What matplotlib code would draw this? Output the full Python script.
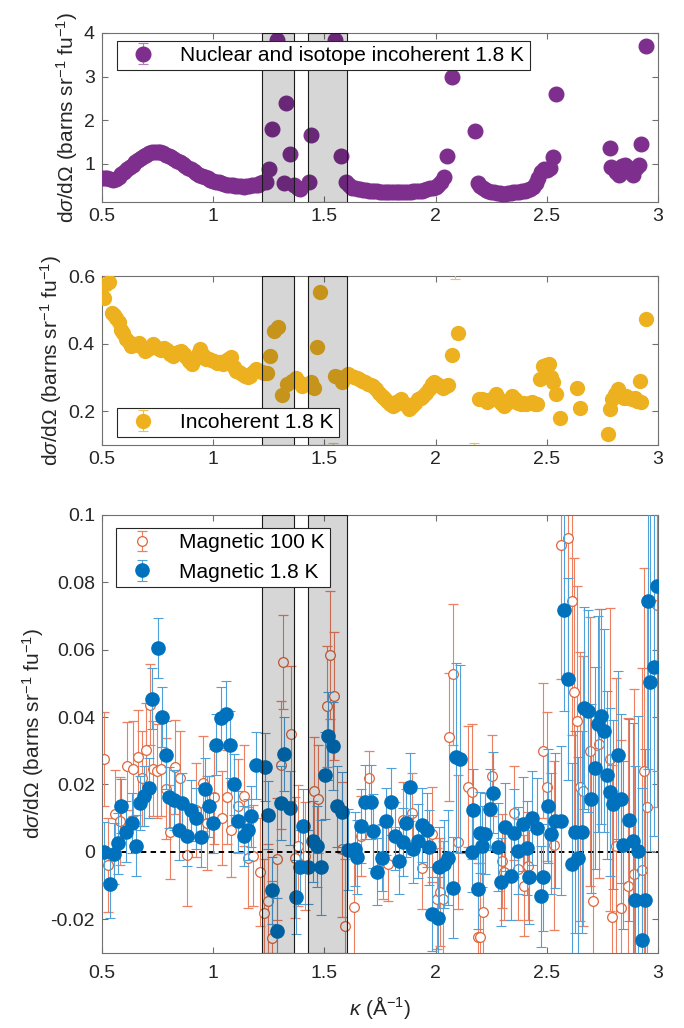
import numpy as np
import matplotlib
matplotlib.use('Agg')
import matplotlib.pyplot as plt
from matplotlib.ticker import FuncFormatter

plt.rcParams['font.family'] = ['Liberation Sans', 'DejaVu Sans']
plt.rcParams['mathtext.fontset'] = 'custom'
plt.rcParams['mathtext.rm'] = 'Liberation Sans'
plt.rcParams['mathtext.it'] = 'Liberation Sans:italic'
plt.rcParams['mathtext.bf'] = 'Liberation Sans:bold'
plt.rcParams['axes.unicode_minus'] = False

# Ausgeschlossene kappa-Bereiche (graue Streifen)
band_lo = [1.22, 1.426]
band_hi = [1.363, 1.60]

# Nuklear + Isotopen-inkohaerent, 1.8 K
top_k = [0.5, 0.5125, 0.525, 0.5375, 0.55, 0.5625, 0.575, 0.5875, 0.6, 0.6125, 0.625, 0.6375,
         0.65, 0.6625, 0.675, 0.6875, 0.7, 0.7125, 0.725, 0.7375, 0.75, 0.7625, 0.775, 0.7875,
         0.8, 0.8125, 0.825, 0.8375, 0.85, 0.8625, 0.875, 0.8875, 0.9, 0.9125, 0.925, 0.9375,
         0.95, 0.9625, 0.975, 0.9875, 1.0, 1.0125, 1.025, 1.0375, 1.05, 1.0625, 1.075, 1.0875,
         1.1, 1.1125, 1.125, 1.1375, 1.15, 1.1625, 1.175, 1.1875, 1.2, 1.2125, 1.225,
         1.2375, 1.25, 1.2625, 1.2875, 1.318, 1.329, 1.347, 1.3625, 1.38, 1.3925, 1.431, 1.441,
         1.549, 1.573, 1.598,
         1.6125, 1.625, 1.6375, 1.65, 1.6625, 1.675, 1.6875, 1.7, 1.7125, 1.725, 1.7375, 1.75,
         1.7625, 1.775, 1.7875, 1.8, 1.8125, 1.825, 1.8375, 1.85, 1.8625, 1.875, 1.8875, 1.9,
         1.9125, 1.925, 1.9375, 1.95, 1.9625, 1.975, 1.9875, 2.0, 2.0125, 2.025, 2.0375, 2.053,
         2.075,
         2.176, 2.19, 2.2, 2.2125, 2.225, 2.2375, 2.25, 2.2625, 2.275, 2.2875, 2.3, 2.3125,
         2.325, 2.3375, 2.35, 2.3625, 2.375, 2.3875, 2.4, 2.4125, 2.425, 2.4375, 2.45, 2.4625,
         2.475, 2.4875, 2.5, 2.5125, 2.53, 2.543,
         2.784, 2.79, 2.8, 2.8125, 2.825, 2.8375, 2.85, 2.8625, 2.875, 2.8875, 2.9, 2.9125,
         2.922, 2.947]
top_v = [0.66, 0.67, 0.68, 0.65, 0.62, 0.64, 0.70, 0.77, 0.82, 0.88, 0.93, 0.98,
         1.03, 1.08, 1.13, 1.17, 1.20, 1.24, 1.26, 1.27, 1.27, 1.26, 1.24, 1.21,
         1.18, 1.15, 1.11, 1.07, 1.03, 0.99, 0.95, 0.91, 0.87, 0.83, 0.79, 0.75,
         0.72, 0.69, 0.66, 0.63, 0.61, 0.59, 0.57, 0.56, 0.54, 0.52, 0.51, 0.50,
         0.49, 0.48, 0.48, 0.47, 0.48, 0.49, 0.50, 0.51, 0.52, 0.55, 0.57,
         0.58, 0.87, 1.79, 3.85, 0.56, 2.39, 1.22, 0.50, 0.43, 0.42, 0.58, 1.66,
         3.85, 1.18, 0.58,
         0.50, 0.45, 0.43, 0.42, 0.41, 0.40, 0.39, 0.38, 0.38, 0.37, 0.37, 0.36,
         0.36, 0.35, 0.35, 0.34, 0.35, 0.35, 0.34, 0.35, 0.35, 0.36, 0.36, 0.37,
         0.37, 0.38, 0.38, 0.40, 0.41, 0.43, 0.45, 0.47, 0.50, 0.58, 0.70, 1.18,
         2.98,
         1.75, 0.55, 0.48, 0.43, 0.40, 0.38, 0.36, 0.34, 0.33, 0.32, 0.31, 0.31,
         0.32, 0.33, 0.34, 0.35, 0.36, 0.37, 0.38, 0.39, 0.42, 0.47, 0.55, 0.68,
         0.82, 0.88, 0.86, 0.90, 1.16, 2.60,
         1.37, 0.93, 0.88, 0.80, 0.75, 0.95, 0.98, 0.92, 0.80, 0.75, 0.90, 0.97,
         1.45, 3.70]

# Inkohaerent, 1.8 K
mid_k = [0.5075, 0.52, 0.5325, 0.545, 0.555, 0.565, 0.575, 0.585, 0.595, 0.6075, 0.62, 0.63,
         0.645, 0.655, 0.6675, 0.68, 0.6925, 0.705, 0.7175, 0.73, 0.7425, 0.755, 0.7675, 0.78,
         0.7925, 0.805, 0.8175, 0.83, 0.8425, 0.855, 0.8675, 0.88, 0.8925, 0.905, 0.9175, 0.93,
         0.9425, 0.955, 0.9675, 0.98, 0.9925, 1.005, 1.0175, 1.03, 1.0425, 1.055, 1.0675, 1.08,
         1.0925, 1.105, 1.1175, 1.13, 1.1425, 1.155, 1.1675, 1.18, 1.1925, 1.205, 1.2175, 1.23,
         1.2425, 1.255, 1.275, 1.2925, 1.31, 1.3325, 1.3525, 1.3725, 1.385, 1.3975, 1.42, 1.44,
         1.4525, 1.465, 1.48, 1.55, 1.5625, 1.5775, 1.59, 1.6075, 1.62, 1.6325, 1.645, 1.6575,
         1.67, 1.6825, 1.695, 1.7075, 1.72, 1.7325, 1.745, 1.7575, 1.77, 1.7825, 1.795, 1.8075,
         1.82, 1.8325, 1.845, 1.8575, 1.87, 1.8825, 1.895, 1.9075, 1.92, 1.9325, 1.945, 1.9575,
         1.97, 1.9825, 1.995, 2.0075, 2.02, 2.0325, 2.045, 2.0575, 2.0725,
         2.195, 2.2075, 2.22, 2.2325, 2.245, 2.2575, 2.27, 2.2825, 2.295, 2.3075, 2.32, 2.3325,
         2.345, 2.3575, 2.37, 2.3825, 2.395, 2.4075, 2.42, 2.4325, 2.445, 2.4575, 2.47, 2.4825,
         2.495, 2.51, 2.52, 2.53, 2.5425, 2.56, 2.6375, 2.6475,
         2.775, 2.785, 2.795, 2.8075, 2.82, 2.8325, 2.845, 2.8575, 2.87, 2.8825, 2.895, 2.9075,
         2.92, 2.925]
mid_v = [0.536, 0.575, 0.582, 0.490, 0.485, 0.475, 0.465, 0.440, 0.430, 0.415, 0.405, 0.393,
         0.395, 0.400, 0.403, 0.390, 0.378, 0.385, 0.390, 0.398, 0.390, 0.385, 0.380, 0.388,
         0.380, 0.370, 0.364, 0.370, 0.375, 0.378, 0.370, 0.360, 0.350, 0.339, 0.355, 0.370,
         0.383, 0.365, 0.354, 0.355, 0.352, 0.348, 0.344, 0.345, 0.340, 0.350, 0.355, 0.359,
         0.330, 0.319, 0.315, 0.310, 0.305, 0.300, 0.305, 0.315, 0.324, 0.320, 0.315, 0.312,
         0.312, 0.362, 0.437, 0.450, 0.247, 0.280, 0.290, 0.297, 0.285, 0.275, 0.280, 0.285,
         0.270, 0.390, 0.554, 0.304, 0.300, 0.285, 0.300, 0.309, 0.305, 0.300, 0.297, 0.295,
         0.290, 0.285, 0.280, 0.278, 0.275, 0.265, 0.255, 0.245, 0.240, 0.230, 0.220, 0.216,
         0.222, 0.230, 0.235, 0.225, 0.215, 0.206, 0.215, 0.225, 0.235, 0.240, 0.245, 0.255,
         0.265, 0.280, 0.285, 0.280, 0.275, 0.270, 0.275, 0.277, 0.366,
         0.235, 0.235, 0.232, 0.228, 0.232, 0.240, 0.250, 0.240, 0.225, 0.216, 0.225, 0.235,
         0.245, 0.235, 0.225, 0.221, 0.225, 0.220, 0.223, 0.226, 0.222, 0.220, 0.295, 0.334,
         0.338, 0.339, 0.300, 0.285, 0.250, 0.181, 0.270, 0.211,
         0.132, 0.206, 0.235, 0.250, 0.265, 0.245, 0.240, 0.245, 0.240, 0.235, 0.238, 0.230,
         0.290, 0.226]
# Punkte mit sichtbaren Fehlerbalken (teils ausserhalb des Bereichs)
mid_big_k = [1.5375, 2.0875, 2.10, 2.175, 2.9475]
mid_big_v = [0.07, 0.66, 0.43, 0.06, 0.472]
mid_big_e = [0.035, 0.07, 0.015, 0.045, 0.012]

# Magnetisch, 100 K
m100_k = [0.509, 0.528, 0.558, 0.580, 0.613, 0.639, 0.662, 0.680, 0.699, 0.717, 0.728, 0.746,
          0.766, 0.788, 0.806, 0.829, 0.850, 0.884, 0.921, 0.954, 0.973, 1.003, 1.040, 1.062,
          1.082, 1.114, 1.141, 1.156, 1.177, 1.211, 1.230, 1.248, 1.266, 1.285, 1.304, 1.316,
          1.350, 1.368, 1.383, 1.413, 1.455, 1.473, 1.510, 1.525, 1.543, 1.578, 1.593, 1.633,
          1.667, 1.702, 1.765, 1.787, 1.855, 1.892, 1.937, 1.982, 2.005, 2.020, 2.032, 2.062,
          2.080, 2.099, 2.144, 2.162, 2.189, 2.200, 2.215, 2.252, 2.297, 2.309, 2.354, 2.372,
          2.399, 2.417, 2.484, 2.499, 2.534, 2.564, 2.594, 2.612, 2.622, 2.634, 2.649, 2.664,
          2.694, 2.709, 2.735, 2.784, 2.792, 2.810, 2.834, 2.866, 2.893, 2.927, 2.939, 2.949,
          2.994]
m100_v = [0.0276, -0.0039, 0.0112, 0.0091, 0.0254, 0.0247, 0.0281, 0.0218, 0.0303, 0.0437,
          0.0247, 0.0240, 0.0247, 0.0188, 0.0059, 0.0252, 0.0218, -0.0010, 0.0125, 0.0203,
          0.0086, 0.0164, 0.0100, 0.0162, 0.0066, 0.0137, 0.0166, -0.0017, -0.0012, -0.0060,
          -0.0180, -0.0146, -0.0256, -0.0021, 0.0257, 0.0564, 0.0351, -0.0017, 0.0018, -0.0012,
          0.0180, 0.0156, 0.0432, 0.0583, 0.0464, 0.0008, -0.0221, -0.0163, 0.0047, 0.0218,
          -0.0031, -0.0036, 0.0096, 0.0115, -0.0049, 0.0052, -0.0139, -0.0120, -0.0139, 0.0341,
          0.0527, 0.0029, 0.0193, 0.0179, -0.0254, -0.0252, -0.0179, 0.0226, -0.0027, -0.0061,
          0.0116, -0.0052, -0.0100, -0.0042, 0.0300, 0.0194, 0.0019, 0.0912, 0.0932, 0.0746,
          0.0473, 0.0389, 0.0194, 0.0180, 0.0298, -0.0147, 0.0321, 0.0275, -0.0193, 0.0017,
          -0.0167, -0.0102, -0.0066, -0.0054, 0.0241, 0.0132, 0.0734]
m100_e = [0.014, 0.014, 0.013, 0.013, 0.013, 0.014, 0.014, 0.014, 0.014, 0.012,
          0.014, 0.014, 0.014, 0.015, 0.014, 0.014, 0.014, 0.015, 0.014, 0.014,
          0.014, 0.014, 0.014, 0.014, 0.014, 0.014, 0.015, 0.015, 0.015, 0.016,
          0.016, 0.017, 0.017, 0.018, 0.019, 0.014, 0.020, 0.018, 0.018, 0.016,
          0.016, 0.016, 0.018, 0.019, 0.019, 0.020, 0.020, 0.018, 0.012, 0.008,
          0.011, 0.011, 0.011, 0.012, 0.012, 0.014, 0.015, 0.016, 0.017, 0.019,
          0.021, 0.020, 0.018, 0.020, 0.022, 0.022, 0.022, 0.012, 0.014, 0.014,
          0.014, 0.015, 0.015, 0.016, 0.020, 0.022, 0.025, 0.040, 0.040, 0.040,
          0.040, 0.040, 0.040, 0.040, 0.040, 0.045, 0.040, 0.045, 0.045, 0.050,
          0.050, 0.050, 0.055, 0.060, 0.060, 0.060, 0.060]

# Magnetisch, 1.8 K
m18_k = [0.509, 0.536, 0.553, 0.572, 0.587, 0.610, 0.635, 0.651, 0.669, 0.687, 0.711, 0.725,
         0.751, 0.769, 0.788, 0.803, 0.825, 0.847, 0.862, 0.884, 0.899, 0.921, 0.944, 0.963,
         0.981, 1.000, 1.013, 1.037, 1.058, 1.077, 1.096, 1.114, 1.137, 1.156, 1.171, 1.191,
         1.233, 1.248, 1.266, 1.288, 1.304, 1.320, 1.345, 1.371, 1.390, 1.405, 1.428, 1.450,
         1.465, 1.483, 1.503, 1.518, 1.537, 1.555, 1.581, 1.605, 1.637, 1.649, 1.664, 1.683,
         1.709, 1.720, 1.738, 1.757, 1.777, 1.798, 1.817, 1.835, 1.855, 1.865, 1.886, 1.900,
         1.922, 1.937, 1.960, 1.970, 1.982, 2.009, 2.015, 2.039, 2.057, 2.077, 2.090, 2.110,
         2.162, 2.170, 2.192, 2.200, 2.207, 2.222, 2.245, 2.260, 2.279, 2.294, 2.312, 2.339,
         2.354, 2.372, 2.394, 2.410, 2.421, 2.435, 2.454, 2.472, 2.484, 2.504, 2.519, 2.537,
         2.564, 2.579, 2.594, 2.615, 2.627, 2.642, 2.657, 2.667, 2.687, 2.699, 2.717, 2.729,
         2.744, 2.759, 2.771, 2.784, 2.799, 2.819, 2.834, 2.844, 2.870, 2.889, 2.897, 2.912,
         2.927, 2.941, 2.954, 2.964, 2.984, 2.994]
m18_v = [0.0000, -0.0095, -0.0005, 0.0025, 0.0135, 0.0060, 0.0086, 0.0018, 0.0146, 0.0166,
         0.0190, 0.0455, 0.0605, 0.0400, 0.0288, 0.0162, 0.0154, 0.0066, 0.0144, 0.0047,
         0.0123, 0.0100, 0.0044, 0.0188, 0.0135, 0.0086, 0.0318, 0.0398, 0.0408, 0.0318,
         0.0200, 0.0091, 0.0047, 0.0066, 0.0105, 0.0257, 0.0252, 0.0110, -0.0114, -0.0236,
         0.0144, 0.0290, 0.0130, -0.0134, -0.0046, 0.0078, -0.0046, 0.0032, 0.0016, -0.0046,
         0.0227, 0.0344, 0.0315, 0.0135, 0.0117, 0.0006, 0.0008, -0.0014, 0.0078, 0.0149,
         0.0149, 0.0061, -0.0059, -0.0017, 0.0091, 0.0149, 0.0047, -0.0026, 0.0029, 0.0086,
         0.0193, 0.0008, 0.0032, 0.0081, 0.0066, 0.0013, -0.0185, -0.0195, -0.0046, -0.0036,
         -0.0017, -0.0107, 0.0281, 0.0276, 0.0000, 0.0125, -0.0110, 0.0057, 0.0017, 0.0054,
         0.0126, 0.0175, 0.0015, -0.0089, 0.0073, -0.0071, 0.0056, 0.0004, 0.0083, 0.0012,
         -0.0074, 0.0100, 0.0070, -0.0132, -0.0076, 0.0136, 0.0054, 0.0093, 0.0093, 0.0717,
         0.0514, -0.0035, 0.0058, -0.0018, 0.0058, 0.0428, 0.0417, 0.0158, 0.0249, 0.0380,
         0.0402, 0.0360, 0.0228, 0.0178, 0.0141, 0.0288, 0.0158, 0.0021, 0.0095, 0.0031,
         -0.0144, 0.0002, -0.0261, -0.0144, 0.0746, 0.0504, 0.0548, 0.0789]
m18_e = [0.009, 0.010, 0.009, 0.009, 0.008, 0.009, 0.009, 0.009, 0.008, 0.009,
         0.009, 0.009, 0.009, 0.009, 0.010, 0.009, 0.009, 0.009, 0.009, 0.009,
         0.009, 0.009, 0.009, 0.009, 0.009, 0.009, 0.009, 0.009, 0.010, 0.010,
         0.009, 0.009, 0.009, 0.009, 0.009, 0.010, 0.010, 0.010, 0.010, 0.010,
         0.011, 0.011, 0.011, 0.011, 0.011, 0.011, 0.011, 0.012, 0.012, 0.014,
         0.013, 0.013, 0.013, 0.012, 0.012, 0.012, 0.011, 0.011, 0.011, 0.011,
         0.011, 0.011, 0.010, 0.010, 0.010, 0.010, 0.010, 0.010, 0.010, 0.010,
         0.010, 0.010, 0.011, 0.011, 0.011, 0.011, 0.011, 0.012, 0.012, 0.013,
         0.014, 0.015, 0.028, 0.028, 0.012, 0.012, 0.012, 0.012, 0.012, 0.012,
         0.012, 0.012, 0.013, 0.013, 0.013, 0.013, 0.013, 0.013, 0.014, 0.014,
         0.014, 0.014, 0.015, 0.015, 0.016, 0.017, 0.018, 0.020, 0.022, 0.030,
         0.030, 0.030, 0.030, 0.030, 0.030, 0.030, 0.030, 0.028, 0.030, 0.032,
         0.032, 0.030, 0.025, 0.025, 0.025, 0.025, 0.025, 0.025, 0.030, 0.035,
         0.040, 0.040, 0.045, 0.045, 0.050, 0.050, 0.050, 0.055]

purple = '#7E2F8E'
gelb = '#EDB120'
orange = '#D95319'
blau = '#0072BD'

ylabel = 'd$\\sigma$/d$\\Omega$ (barns sr$^{-1}$ fu$^{-1}$)'
fmt = FuncFormatter(lambda v, p: '%g' % v)

fig = plt.figure(figsize=(6.84, 10.28), dpi=100)
ax1 = fig.add_axes([0.149, 0.8035, 0.813, 0.1644])
ax2 = fig.add_axes([0.149, 0.5671, 0.813, 0.1644])
ax3 = fig.add_axes([0.149, 0.0730, 0.813, 0.4261])


def stil(ax, xpad=4.5):
    for s in ax.spines.values():
        s.set_color('#707070')
        s.set_linewidth(0.8)
    ax.tick_params(direction='in', length=4, width=0.8, top=True, right=True,
                   color='#707070', labelcolor='#262626', labelsize=14)
    ax.tick_params(axis='x', pad=xpad)
    ax.tick_params(axis='y', pad=5)
    ax.set_xlim(0.5, 3)
    ax.set_xticks([0.5, 1, 1.5, 2, 2.5, 3])
    ax.xaxis.set_major_formatter(fmt)
    ax.yaxis.set_major_formatter(fmt)
    ax.set_ylabel(ylabel, fontsize=15, color='#262626', labelpad=3)
    for a, b in zip(band_lo, band_hi):
        ax.axvspan(a, b, facecolor=(0, 0, 0, 0.16), edgecolor=(0.1, 0.1, 0.1, 1),
                   linewidth=0.8, zorder=5)


def legende(ax, **kw):
    leg = ax.legend(fontsize=15, fancybox=False, framealpha=1, edgecolor='#262626',
                    borderpad=0.25, handletextpad=0.8, borderaxespad=0, **kw)
    leg.get_frame().set_linewidth(0.8)
    leg.set_zorder(10)


# Panel 1
ax1.errorbar(top_k, top_v, yerr=0.02, fmt='o', ms=10.5, color=purple, ecolor='#b07fbd',
             elinewidth=0.8, capsize=3.5, capthick=0.8, zorder=3,
             label='Nuclear and isotope incoherent 1.8 K')
ax1.set_ylim(0.12, 4)
ax1.set_yticks([1, 2, 3, 4])
stil(ax1)
legende(ax1, loc='upper left', bbox_to_anchor=(0.027, 0.953))

# Panel 2
ax2.errorbar(mid_k, mid_v, yerr=0.004, fmt='o', ms=10, color=gelb, ecolor='#f0c050',
             elinewidth=0.8, capsize=3.5, capthick=0.8, zorder=3, label='Incoherent 1.8 K')
ax2.errorbar(mid_big_k, mid_big_v, yerr=mid_big_e, fmt='o', ms=10, color=gelb,
             ecolor='#f0c050', elinewidth=0.8, capsize=3.5, capthick=0.8, zorder=3)
ax2.set_ylim(0.1, 0.6)
ax2.set_yticks([0.2, 0.4, 0.6])
stil(ax2)
legende(ax2, loc='lower left', bbox_to_anchor=(0.027, 0.047))

# Panel 3
ax3.errorbar(m100_k, m100_v, yerr=m100_e, fmt='o', ms=7, mfc='white', mec='#e0663a',
             mew=0.9, ecolor='#ec8060', elinewidth=0.8, capsize=3.5, capthick=0.8,
             zorder=2, label='Magnetic 100 K')
ax3.axhline(0, color='k', ls=(0, (2.8, 2.2)), lw=1.4, zorder=2.5)
ax3.errorbar(m18_k, m18_v, yerr=m18_e, fmt='o', ms=9.5, color=blau, ecolor='#4f9fd8',
             elinewidth=0.8, capsize=3.5, capthick=0.8, zorder=3, label='Magnetic 1.8 K')
ax3.set_ylim(-0.03, 0.1)
ax3.set_yticks([-0.02, 0, 0.02, 0.04, 0.06, 0.08, 0.1])
stil(ax3, xpad=9)
ax3.set_xlabel('$\\kappa$ (Å$^{-1}$)', fontsize=15, color='#262626', labelpad=8)
legende(ax3, loc='upper left', bbox_to_anchor=(0.025, 0.970))

fig.savefig('out.png', dpi=100)
